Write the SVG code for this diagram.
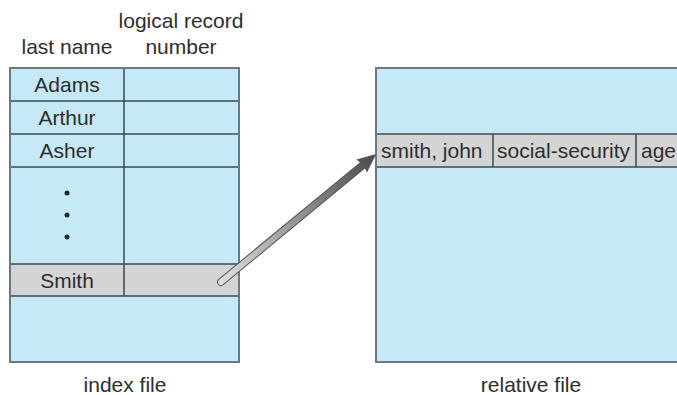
<svg xmlns="http://www.w3.org/2000/svg" width="677" height="395" viewBox="0 0 677 395">
<defs>
<style>
text{font-family:"Liberation Sans",Arial,sans-serif;font-size:21px;fill:#2e2e2e}
.c{text-anchor:middle}
.blue{fill:#c6e9f8}
.grey{fill:#d4d4d4}
.ln{stroke:#3a4a50;stroke-width:1.5;fill:none}
.box{stroke:#6a7a80;stroke-width:2;fill:none}
</style>
<linearGradient id="ag" x1="0" y1="0" x2="1" y2="0">
<stop offset="0" stop-color="#e0e0e0"/>
<stop offset="1" stop-color="#4a4a4a"/>
</linearGradient>
</defs>
<rect width="677" height="395" fill="#fff"/>
<g id="index-file">
<text class="c" x="181" y="28">logical record</text>
<text class="c" x="67" y="54">last name</text>
<text class="c" x="181" y="54">number</text>
<rect class="blue" x="10" y="68" width="229" height="294"/>
<rect class="grey" x="10" y="264" width="229" height="32"/>
<line class="ln" x1="10" y1="101" x2="239" y2="101"/>
<line class="ln" x1="10" y1="134" x2="239" y2="134"/>
<line class="ln" x1="10" y1="167" x2="239" y2="167"/>
<line class="ln" x1="10" y1="264" x2="239" y2="264"/>
<line class="ln" x1="10" y1="296" x2="239" y2="296"/>
<line class="ln" x1="124" y1="68" x2="124" y2="296"/>
<rect class="box" x="10" y="68" width="229" height="294"/>
<text class="c" x="67" y="92">Adams</text>
<text class="c" x="67" y="125">Arthur</text>
<text class="c" x="67" y="158">Asher</text>
<circle cx="67" cy="193" r="2.5" fill="#1e2a30"/>
<circle cx="67" cy="215" r="2.5" fill="#1e2a30"/>
<circle cx="67" cy="237" r="2.5" fill="#1e2a30"/>
<text class="c" x="67" y="288">Smith</text>
<text class="c" x="125" y="392">index file</text>
</g>
<g id="relative-file">
<rect class="blue" x="376" y="68" width="305" height="294"/>
<rect class="grey" x="376" y="134" width="305" height="33"/>
<line class="ln" x1="376" y1="134" x2="681" y2="134" stroke="#6a7a80"/>
<line class="ln" x1="376" y1="167" x2="681" y2="167" stroke="#6a7a80"/>
<line class="ln" x1="493" y1="134" x2="493" y2="167" stroke="#6a7a80"/>
<line class="ln" x1="636" y1="134" x2="636" y2="167" stroke="#6a7a80"/>
<rect class="box" x="376" y="68" width="305" height="294"/>
<text x="381" y="158">smith, john</text>
<text x="497" y="158">social-security</text>
<text x="641" y="158">age</text>
<text class="c" x="531" y="392">relative file</text>
</g>
<g id="connectors">
<path transform="translate(221,282) rotate(-39.5)" d="M0,-3.5 L184,-3.5 L183,-7.5 L200,0 L183,7.5 L184,3.5 L0,3.5 A3.5,3.5 0 0 1 0,-3.5 Z" fill="url(#ag)" stroke="#555" stroke-width="1"/>
</g>
</svg>
